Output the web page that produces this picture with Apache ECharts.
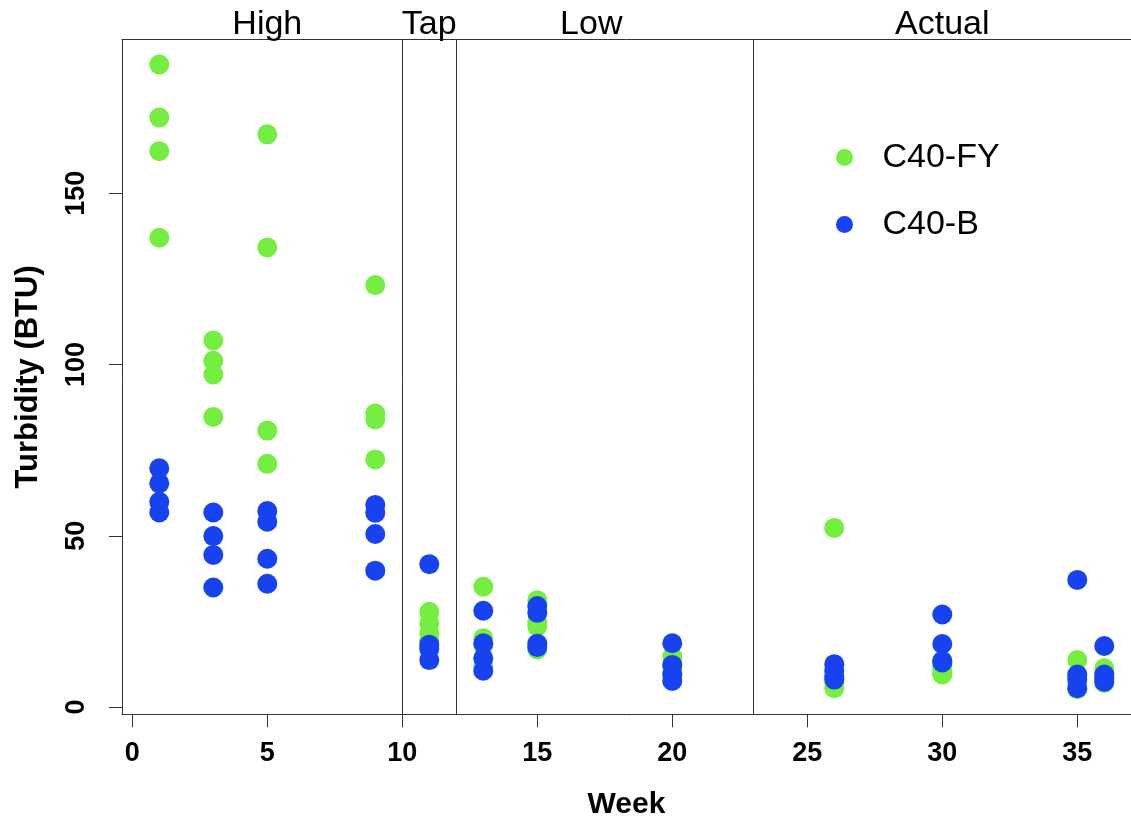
<!DOCTYPE html>
<html>
<head>
<meta charset="utf-8">
<title>Turbidity by week</title>
<script src="https://cdn.jsdelivr.net/npm/echarts@6/dist/echarts.min.js"></script>
<style>
  html, body { margin: 0; padding: 0; background: #ffffff; }
  #chart { width: 1131px; height: 818px; }
</style>
</head>
<body>
<div id="chart"></div>
<script>
// Sampling weeks and the turbidity readings taken in each week
const weeks = [1, 3, 5, 9, 11, 13, 15, 20, 26, 30, 35, 36];
const fyTurbidity = [
  [187.6, 172.1, 162.3, 137.0],
  [107.0, 101.1, 97.1, 84.7],
  [167.2, 134.2, 80.7, 71.0],
  [123.2, 85.7, 84.0, 72.3],
  [27.8, 24.4, 21.5, 19.5],
  [35.1, 20.1, 18.0, 12.0],
  [31.2, 25.0, 23.5, 16.8],
  [14.7, 12.0, 10.0, 8.0],
  [52.3, 11.0, 7.0, 5.5],
  [11.5, 10.5, 9.8, 9.5],
  [13.7, 9.0, 6.5, 5.2],
  [11.3, 10.0, 8.0, 7.0]
];
const bTurbidity = [
  [69.7, 65.3, 59.9, 56.8],
  [56.8, 49.9, 44.4, 34.9],
  [57.2, 54.1, 43.3, 36.0],
  [59.0, 56.7, 50.5, 39.8],
  [41.7, 18.2, 17.0, 13.7],
  [28.1, 18.6, 14.2, 10.6],
  [29.5, 27.5, 18.5, 17.5],
  [18.6, 12.3, 9.5, 7.6],
  [12.5, 10.5, 9.0, 8.0],
  [27.0, 18.4, 13.5, 13.0],
  [37.1, 9.5, 8.0, 5.5],
  [17.8, 9.5, 8.5, 7.4]
];

// Phase boundaries and phase names along the top
const phaseBreaks = [10, 12, 23];
const phaseNames = ['High', 'Tap', 'Low', 'Actual'];
const phaseCenters = [5, 11, 17, 30];

// Axis ticks
const xTicks = [0, 5, 10, 15, 20, 25, 30, 35];
const yTicks = [0, 50, 100, 150];

const seriesNames = ['C40-FY', 'C40-B'];
const colors = ['#74EE41', '#1742F0'];

function toPoints(groups) {
  const pts = [];
  groups.forEach((vals, i) => vals.forEach(v => pts.push([weeks[i], v])));
  return pts;
}

const FONT = '"Liberation Sans", Arial, Helvetica, sans-serif';
const AXIS_COLOR = '#333333';
const X_MIN = -0.381, X_MAX = 36.99;

const chart = echarts.init(document.getElementById('chart'), null, { renderer: 'canvas' });

chart.setOption({
  animation: false,
  backgroundColor: '#ffffff',
  grid: {
    left: 122,
    top: 39.5,
    right: 0,
    height: 674.8,
    show: false,
    outerBoundsMode: 'none',
    containLabel: false
  },
  legend: {
    orient: 'vertical',
    left: 831,
    top: 135.5,
    itemWidth: 66,
    itemHeight: 17,
    itemGap: 33,
    icon: 'circle',
    data: seriesNames,
    textStyle: { fontFamily: FONT, fontSize: 34, color: '#000000' }
  },
  xAxis: [
    {
      type: 'value',
      min: X_MIN,
      max: X_MAX,
      name: 'Week',
      nameLocation: 'middle',
      nameGap: 75,
      nameTextStyle: { fontFamily: FONT, fontSize: 30, fontWeight: 'bold', color: '#000000' },
      splitLine: { show: false },
      axisLine: { show: true, onZero: false, lineStyle: { color: AXIS_COLOR, width: 1 } },
      axisTick: { show: true, length: 13, customValues: xTicks, lineStyle: { color: AXIS_COLOR, width: 1 } },
      axisLabel: {
        customValues: xTicks,
        margin: 26,
        fontFamily: FONT,
        fontSize: 27,
        fontWeight: 'bold',
        color: '#000000'
      }
    },
    {
      // top edge of the plotting box
      type: 'value',
      position: 'top',
      min: X_MIN,
      max: X_MAX,
      splitLine: { show: false },
      axisLine: { show: true, onZero: false, lineStyle: { color: AXIS_COLOR, width: 1 } },
      axisTick: { show: false },
      axisLabel: { show: false }
    }
  ],
  yAxis: {
    type: 'value',
    min: -2.13,
    max: 194.9,
    name: 'Turbidity (BTU)',
    nameLocation: 'middle',
    nameGap: 78,
    nameRotate: 90,
    nameTextStyle: { fontFamily: FONT, fontSize: 31, fontWeight: 'bold', color: '#000000' },
    splitLine: { show: false },
    axisLine: { show: true, onZero: false, lineStyle: { color: AXIS_COLOR, width: 1 } },
    axisTick: { show: true, length: 13, customValues: yTicks, lineStyle: { color: AXIS_COLOR, width: 1 } },
    axisLabel: {
      customValues: yTicks,
      rotate: 90,
      margin: 32,
      fontFamily: FONT,
      fontSize: 27,
      fontWeight: 'bold',
      color: '#000000'
    }
  },
  series: [
    {
      name: seriesNames[0],
      type: 'scatter',
      symbol: 'circle',
      symbolSize: 20,
      itemStyle: { color: colors[0], opacity: 1 },
      data: toPoints(fyTurbidity),
      z: 2,
      markLine: {
        silent: true,
        symbol: ['none', 'none'],
        label: { show: false },
        lineStyle: { color: AXIS_COLOR, width: 1, type: 'solid' },
        data: phaseBreaks.map(x => ({ xAxis: x }))
      }
    },
    {
      name: seriesNames[1],
      type: 'scatter',
      symbol: 'circle',
      symbolSize: 20,
      itemStyle: { color: colors[1], opacity: 1 },
      data: toPoints(bTurbidity),
      z: 3
    },
    {
      // phase names written above the plotting box
      name: 'phases',
      type: 'scatter',
      symbolSize: 1,
      clip: false,
      silent: true,
      itemStyle: { opacity: 0 },
      data: phaseNames.map((n, i) => ({ value: [phaseCenters[i], 199.2], name: n })),
      label: {
        show: true,
        position: 'inside',
        opacity: 1,
        formatter: p => p.name,
        fontFamily: FONT,
        fontSize: 34,
        color: '#000000',
        textBorderWidth: 0
      }
    }
  ]
});
</script>
</body>
</html>
